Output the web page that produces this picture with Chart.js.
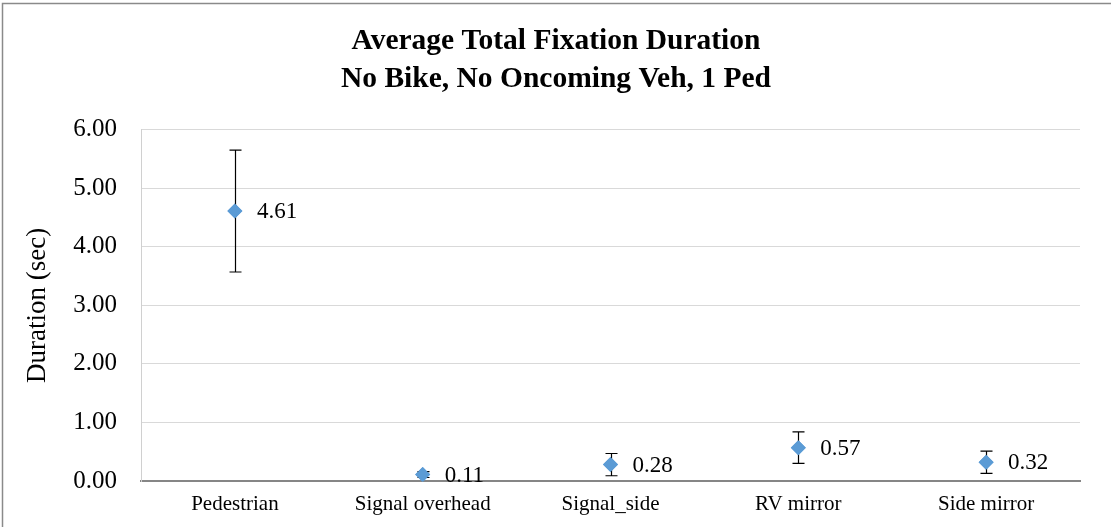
<!DOCTYPE html>
<html>
<head>
<meta charset="utf-8">
<style>
  html, body { margin: 0; padding: 0; background: #ffffff; }
  #wrap { width: 1111px; height: 527px; position: relative; }
</style>
<script src="https://cdn.jsdelivr.net/npm/chart.js@4.4.1/dist/chart.umd.min.js"></script>
</head>
<body>
<div id="wrap"><canvas id="chart" width="1111" height="527"></canvas></div>
<script>
// Fixation duration per area of interest (seconds)
const categories = ['Pedestrian', 'Signal overhead', 'Signal_side', 'RV mirror', 'Side mirror'];
const meanDuration = [4.61, 0.11, 0.28, 0.57, 0.32];
const errorMargin = [1.04, 0.05, 0.19, 0.27, 0.19];
const yTicks = [0, 1, 2, 3, 4, 5, 6];

const SERIF = '"Liberation Serif", "Times New Roman", serif';

// Vertical error bars with caps, drawn through the y scale
const errorBars = {
  id: 'errorBars',
  afterDatasetsDraw(chart) {
    const ctx = chart.ctx;
    const meta = chart.getDatasetMeta(0);
    const y = chart.scales.y;
    ctx.save();
    ctx.strokeStyle = '#000000';
    ctx.lineWidth = 1.2;
    meta.data.forEach((pt, i) => {
      const top = y.getPixelForValue(meanDuration[i] + errorMargin[i]);
      const bot = y.getPixelForValue(meanDuration[i] - errorMargin[i]);
      const x = Math.round(pt.x) + 0.5;
      ctx.beginPath();
      ctx.moveTo(x, top); ctx.lineTo(x, bot);
      ctx.moveTo(x - 6, top); ctx.lineTo(x + 6, top);
      ctx.moveTo(x - 6, bot); ctx.lineTo(x + 6, bot);
      ctx.stroke();
    });
    ctx.restore();
  }
};

// Redraw markers over the bars and print each mean to the right of its point
const valueLabels = {
  id: 'valueLabels',
  afterDatasetsDraw(chart) {
    const ctx = chart.ctx;
    const meta = chart.getDatasetMeta(0);
    ctx.save();
    meta.data.forEach(pt => pt.draw(ctx, chart.chartArea));
    ctx.fillStyle = '#000000';
    ctx.font = '23px ' + SERIF;
    ctx.textAlign = 'left';
    ctx.textBaseline = 'middle';
    meta.data.forEach((pt, i) => {
      ctx.fillText(meanDuration[i].toFixed(2), pt.x + 22, pt.y + 1);
    });
    ctx.restore();
  }
};

// Outer frame of the chart
const frame = {
  id: 'frame',
  beforeDraw(chart) {
    const ctx = chart.ctx;
    ctx.save();
    ctx.fillStyle = '#ffffff';
    ctx.fillRect(0, 0, chart.width, chart.height);
    ctx.strokeStyle = '#8a8a8a';
    ctx.lineWidth = 1.5;
    ctx.beginPath();
    ctx.moveTo(2.5, chart.height);
    ctx.lineTo(2.5, 3.5);
    ctx.lineTo(chart.width, 3.5);
    ctx.stroke();
    ctx.restore();
  }
};

new Chart(document.getElementById('chart'), {
  type: 'line',
  data: {
    labels: categories,
    datasets: [{
      label: 'Average Total Fixation Duration',
      data: meanDuration,
      showLine: false,
      pointStyle: 'rectRot',
      pointRadius: 7.5,
      pointHoverRadius: 7.5,
      pointBackgroundColor: '#5b9bd5',
      pointBorderColor: '#5b9bd5',
      pointBorderWidth: 0
    }]
  },
  options: {
    responsive: false,
    animation: false,
    events: [],
    layout: { padding: { left: 32, right: 31, top: 0, bottom: 0 } },
    plugins: {
      legend: { display: false },
      tooltip: { enabled: false },
      title: {
        display: true,
        text: ['Average Total Fixation Duration', 'No Bike, No Oncoming Veh, 1 Ped'],
        color: '#000000',
        font: { family: SERIF, size: 29.5, weight: 'bold', lineHeight: 1.3 },
        padding: { top: 22, bottom: 31 }
      }
    },
    scales: {
      x: {
        offset: true,
        grid: { display: false, drawTicks: false },
        border: { display: true, color: '#868686', width: 2 },
        ticks: { color: '#000000', font: { family: SERIF, size: 21 }, padding: 11, maxRotation: 0 },
        afterFit(scale) { scale.height = 46; }
      },
      y: {
        min: 0,
        max: 6,
        afterBuildTicks(scale) { scale.ticks = yTicks.map(v => ({ value: v })); },
        grid: { color: '#d9d9d9', lineWidth: 1, drawTicks: false },
        border: { display: true, color: '#d0d0d0', width: 1 },
        ticks: {
          color: '#000000',
          font: { family: SERIF, size: 25 },
          padding: 24,
          callback: v => Number(v).toFixed(2)
        },
        title: {
          display: true,
          text: 'Duration (sec)',
          color: '#000000',
          font: { family: SERIF, size: 27 },
          padding: { top: -10, bottom: 0 }
        },
        afterFit(scale) { scale.width = 109; }
      }
    }
  },
  plugins: [frame, errorBars, valueLabels]
});
</script>
</body>
</html>
